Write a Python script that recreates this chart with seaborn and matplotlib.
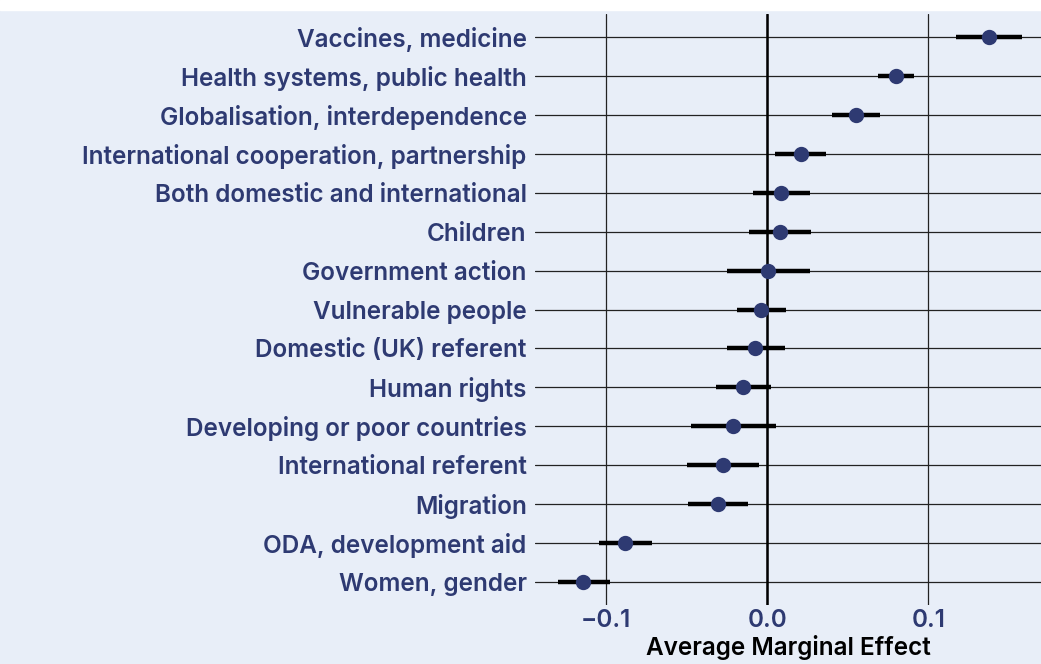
import numpy as np
import pandas as pd
import seaborn as sns
import matplotlib.pyplot as plt
from matplotlib.patches import Rectangle

labels = ["Vaccines, medicine", "Health systems, public health", "Globalisation, interdependence",
          "International cooperation, partnership", "Both domestic and international", "Children",
          "Government action", "Vulnerable people", "Domestic (UK) referent", "Human rights",
          "Developing or poor countries", "International referent", "Migration",
          "ODA, development aid", "Women, gender"]
ame = [0.138, 0.080, 0.055, 0.021, 0.0085, 0.0077, 0.0004, -0.0037, -0.0073, -0.0147,
       -0.0211, -0.0273, -0.0304, -0.088, -0.114]
ci_low = [0.117, 0.069, 0.040, 0.005, -0.0087, -0.0112, -0.0248, -0.0186, -0.0248, -0.0319,
          -0.0472, -0.0497, -0.0493, -0.1043, -0.1298]
ci_high = [0.158, 0.091, 0.070, 0.0366, 0.0263, 0.0271, 0.0267, 0.0118, 0.0108, 0.0027,
           0.0054, -0.0048, -0.0116, -0.0716, -0.0975]

df = pd.DataFrame({"term": labels, "ame": ame, "lo": ci_low, "hi": ci_high})

bg = "#E8EEF8"
navy = "#2E3A72"

sns.set_style("whitegrid", {"axes.facecolor": bg, "figure.facecolor": bg,
                            "grid.color": "#222222", "axes.edgecolor": bg})
plt.rcParams["font.family"] = ["Inter", "DejaVu Sans"]

fig = plt.figure(figsize=(10.41, 6.64), dpi=100)
ax = fig.add_axes([535 / 1041, 1 - 605 / 664, 1 - 535 / 1041, (605 - 14) / 664])

# confidence intervals, then point estimates on top
ax.hlines(np.arange(len(df)), df["lo"], df["hi"], color="black", lw=3.2, zorder=3)
sns.pointplot(data=df, x="ame", y="term", order=labels, orient="h", errorbar=None,
              linestyle="none", color=navy, markersize=9, ax=ax, zorder=4)
ax.axvline(0, color="black", lw=1.8, zorder=2)

ax.set_xlim(-0.1441, 0.170)
ax.set_ylim(len(labels) - 0.4, -0.6)
ax.set_xticks([-0.1, 0.0, 0.1])
ax.set_xticklabels(["\u22120.1", "0.0", "0.1"])
ax.grid(True, color="#222222", lw=0.9)
ax.tick_params(axis="both", length=0, labelsize=17.5, labelcolor=navy)
ax.tick_params(axis="y", pad=6)
ax.tick_params(axis="x", pad=3)
for t in ax.get_yticklabels() + ax.get_xticklabels():
    t.set_fontweight("semibold")
ax.set_ylabel("")
ax.set_xlabel("Average Marginal Effect", fontsize=17.5, fontweight="semibold", color="black", labelpad=2)
for s in ax.spines.values():
    s.set_visible(False)

fig.patches.append(Rectangle((0, 1 - 10 / 664), 1, 10 / 664, transform=fig.transFigure,
                             color="white", zorder=0))

fig.savefig("out.png", dpi=100, facecolor=bg)
